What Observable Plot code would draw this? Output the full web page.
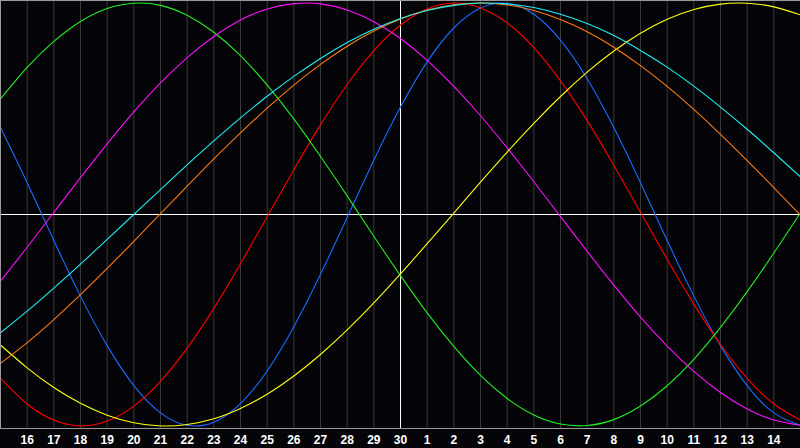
<!DOCTYPE html>
<html>
<head>
<meta charset="utf-8">
<script src="https://cdn.jsdelivr.net/npm/d3@7"></script>
<script src="https://cdn.jsdelivr.net/npm/@observablehq/plot@0.6"></script>
<style>
  html, body { margin: 0; padding: 0; background: #050408; overflow: hidden; }
  #chart svg { display: block; }
</style>
</head>
<body>
<div id="chart"></div>
<script>
// Day offsets from today (0 = the 30th), one sample per day
const dayOffsets = [-15,-14,-13,-12,-11,-10,-9,-8,-7,-6,-5,-4,-3,-2,-1,0,1,2,3,4,5,6,7,8,9,10,11,12,13,14,15];
// Tick labels: days of month for offsets -14..14
const tickOffsets = [-14,-13,-12,-11,-10,-9,-8,-7,-6,-5,-4,-3,-2,-1,0,1,2,3,4,5,6,7,8,9,10,11,12,13,14];
const tickLabels = ["16","17","18","19","20","21","22","23","24","25","26","27","28","29","30","1","2","3","4","5","6","7","8","9","10","11","12","13","14"];

// Curve values (-1 .. 1), one per day offset
const physicalValues = [0.411,0.150,-0.123,-0.386,-0.620,-0.809,-0.938,-0.997,-0.982,-0.894,-0.740,-0.531,-0.283,-0.014,0.257,0.508,0.722,0.882,0.976,0.999,0.947,0.825,0.642,0.411,0.150,-0.123,-0.386,-0.620,-0.809,-0.938,-0.997];
const emotionalValues = [-0.775,-0.896,-0.972,-1.000,-0.977,-0.906,-0.789,-0.632,-0.444,-0.233,-0.011,0.212,0.424,0.615,0.775,0.896,0.972,1.000,0.977,0.906,0.789,0.632,0.444,0.233,0.011,-0.212,-0.424,-0.615,-0.775,-0.896,-0.972];
const intellectualValues = [0.547,0.696,0.819,0.913,0.974,0.999,0.989,0.942,0.862,0.751,0.612,0.452,0.274,0.088,-0.103,-0.289,-0.465,-0.624,-0.761,-0.870,-0.948,-0.991,-0.998,-0.970,-0.906,-0.810,-0.685,-0.534,-0.365,-0.182,0.008];
const intuitiveValues = [-0.315,-0.155,0.010,0.174,0.334,0.485,0.622,0.742,0.842,0.920,0.972,0.997,0.996,0.967,0.912,0.832,0.729,0.606,0.467,0.315,0.155,-0.010,-0.174,-0.334,-0.485,-0.622,-0.742,-0.842,-0.920,-0.972,-0.997];
const aestheticValues = [-0.617,-0.725,-0.818,-0.893,-0.949,-0.985,-1.000,-0.993,-0.966,-0.917,-0.850,-0.764,-0.662,-0.546,-0.418,-0.281,-0.138,0.007,0.153,0.295,0.431,0.558,0.673,0.773,0.857,0.923,0.969,0.995,0.999,0.982,0.944];
const awarenessValues = [-0.704,-0.606,-0.497,-0.379,-0.255,-0.127,0.004,0.134,0.263,0.386,0.503,0.612,0.710,0.796,0.868,0.925,0.967,0.992,1.000,0.991,0.965,0.922,0.864,0.791,0.704,0.606,0.497,0.379,0.255,0.127,-0.004];
const spiritualValues = [-0.559,-0.457,-0.348,-0.235,-0.118,0.000,0.118,0.235,0.348,0.457,0.559,0.653,0.738,0.813,0.876,0.927,0.965,0.989,1.000,0.996,0.979,0.947,0.903,0.846,0.776,0.697,0.607,0.508,0.403,0.292,0.177];

const seriesNames = ["Physical","Emotional","Intellectual","Intuitive","Aesthetic","Awareness","Spiritual"];
const seriesColors = ["#1a6cff","#ff0000","#22ee22","#ff10ff","#ffff10","#ff7a10","#20f0f0"];
const seriesValues = [physicalValues, emotionalValues, intellectualValues, intuitiveValues, aestheticValues, awarenessValues, spiritualValues];

const rows = [];
seriesValues.forEach((vals, i) => {
  vals.forEach((v, j) => rows.push({series: seriesNames[i], t: dayOffsets[j], v}));
});

const yLim = 1.012;
const labelOf = new Map(tickOffsets.map((t, i) => [t, tickLabels[i]]));

const chart = Plot.plot({
  width: 800,
  height: 448,
  marginLeft: 0,
  marginRight: 0,
  marginTop: 0,
  marginBottom: 20,
  style: {background: "#050408", color: "#ffffff", fontFamily: "'Liberation Sans', Arial, sans-serif"},
  x: {domain: [-15, 15], axis: null},
  y: {domain: [-yLim, yLim], axis: null},
  color: {type: "ordinal", domain: seriesNames, range: seriesColors},
  marks: [
    Plot.ruleX(tickOffsets, {stroke: "#3a3a3a", strokeWidth: 1}),
    Plot.ruleX([0], {stroke: "#ffffff", strokeWidth: 1}),
    Plot.ruleY([0], {stroke: "#ffffff", strokeWidth: 1}),
    Plot.line(rows, {x: "t", y: "v", z: "series", stroke: "series", strokeWidth: 1.1, curve: "natural"}),
    Plot.ruleX([-15], {stroke: "#9a9a9a", strokeWidth: 1}),
    Plot.ruleY([yLim, -yLim], {stroke: "#9a9a9a", strokeWidth: 1}),
    Plot.axisX(tickOffsets, {
      tickSize: 0,
      tickPadding: 7,
      tickFormat: (d) => labelOf.get(d),
      label: null,
      fontSize: 12,
      fontWeight: "bold",
      fill: "#ffffff"
    })
  ]
});
document.getElementById("chart").append(chart);
</script>
</body>
</html>
